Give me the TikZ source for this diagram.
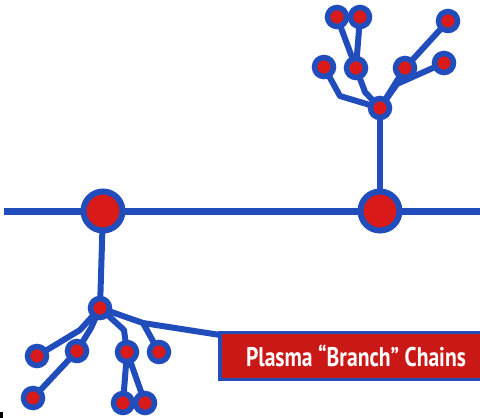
\documentclass[tikz,border=0pt]{standalone}
\usepackage{fontspec}
\setsansfont{PT Sans}
\usepackage{tikz}
\usetikzlibrary{shapes,positioning}
\usetikzlibrary{calc,backgrounds}
\definecolor{chainblue}{RGB}{32,76,188}
\definecolor{chainred}{RGB}{218,26,24}
\tikzset{
	bead/.style={circle,draw=chainblue,fill=chainred,line width=5.5pt,minimum size=19pt,inner sep=0pt},
	bigbead/.style={circle,draw=chainblue,fill=chainred,line width=6pt,minimum size=39pt,inner sep=0pt},
	link/.style={draw=chainblue,line width=6pt,line join=round,line cap=round},
	tag/.style={draw=chainblue,fill=chainred!92!black,line width=3.5pt,minimum width=272pt,minimum height=47pt,inner sep=0pt,text=white,font=\sffamily\bfseries\fontsize{27}{27}\selectfont}
}

\begin{document}
\begin{tikzpicture}[x=1pt,y=-1pt]
\useasboundingbox (0,0) rectangle (480,418);

%Backbone
\coordinate (L) at (4,211);
\coordinate (R) at (485,211);
\node[bigbead] (P) at (103,211) {};
\node[bigbead] (Q) at (380,211) {};

%Branche du haut
\node[bead] (t0) at (380,108) {};
\node[bead] (t1) at (324,67) {};
\node[bead] (t2) at (356,68) {};
\node[bead] (t3) at (405,68) {};
\node[bead] (t4) at (444,63) {};
\node[bead] (t5) at (337,17) {};
\node[bead] (t6) at (360,17) {};
\node[bead] (t7) at (448,21) {};
\coordinate (kt1) at (340,96);
\coordinate (kt2) at (365,92);
\coordinate (kt4) at (397,84);

%Branche du bas
\node[bead] (b0) at (100,308) {};
\node[bead] (b1) at (37,356) {};
\node[bead] (b2) at (77,351) {};
\node[bead] (b3) at (127,352) {};
\node[bead] (b4) at (159,352) {};
\node[bead] (b5) at (33,398) {};
\node[bead] (b6) at (123,403) {};
\node[bead] (b7) at (145,403) {};
\coordinate (kb1) at (80,330);
\coordinate (kb2) at (91,328);
\coordinate (kb3) at (124,330);
\coordinate (kb4) at (143,323);

%Etiquette
\node[tag] (box) at (356,356) {\scalebox{0.8}[1]{Plasma \char"201C Branch\char"201D{} Chains}};

\begin{pgfonlayer}{background}
\draw[draw=chainblue,line width=7pt] (L) -- (R);
\draw[link] (P.center) -- (b0.center);
\draw[link] (Q.center) -- (t0.center);
% haut
\draw[link] (t0.center) -- (kt1) -- (t1.center);
\draw[link] (t0.center) -- (kt2) -- (t2.center);
\draw[link] (t2.center) -- (t5.center);
\draw[link] (t2.center) -- (t6.center);
\draw[link] (t0.center) -- (t3.center) -- (t7.center);
\draw[link] (t0.center) -- (kt4) -- (t4.center);
% bas
\draw[link] (b0.center) -- (kb1) -- (b1.center);
\draw[link] (b0.center) -- (kb2) -- (b2.center) -- (b5.center);
\draw[link] (b0.center) -- (kb3) -- (b3.center);
\draw[link] (b3.center) -- (b6.center);
\draw[link] (b3.center) -- (b7.center);
\draw[link] (b0.center) -- (kb4) -- (b4.center);
\draw[link] (kb4) -- (box);
\end{pgfonlayer}

% petit trait noir
\fill[black] (0,412) rectangle (3,418);

\end{tikzpicture}
\end{document}
